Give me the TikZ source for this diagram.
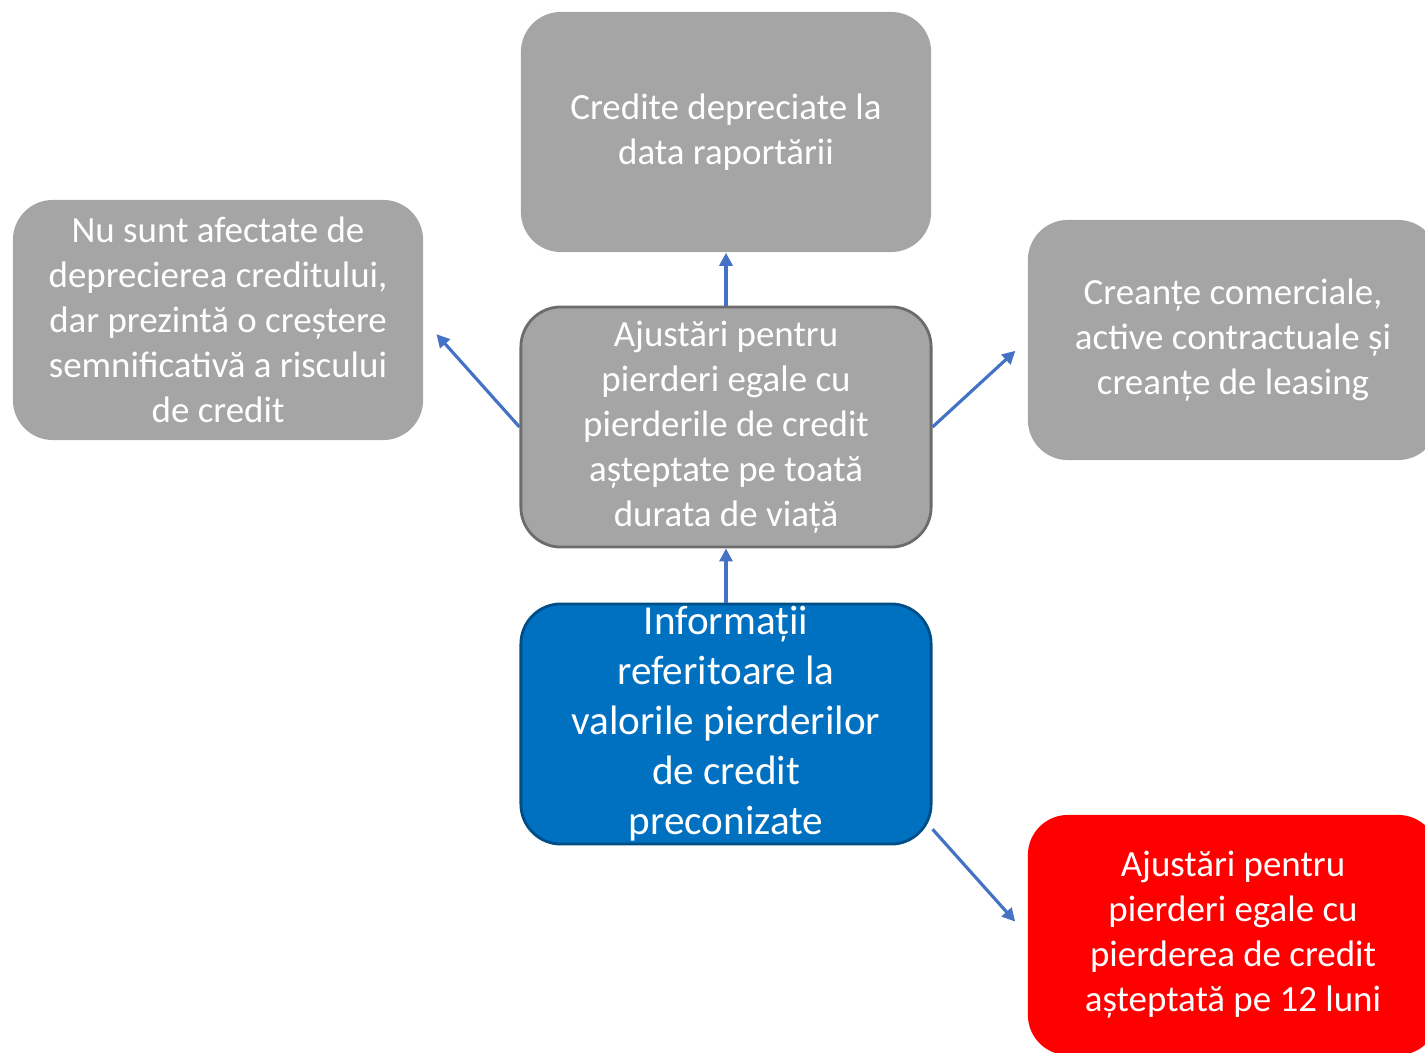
\documentclass[tikz,border=0pt]{standalone}
\usepackage{fontspec}
\setmainfont{Carlito}
\usetikzlibrary{arrows.meta}
\definecolor{boxgray}{HTML}{A5A5A5}
\definecolor{boxblue}{HTML}{0070C0}
\definecolor{boxred}{HTML}{FF0000}
\definecolor{linkblue}{HTML}{4472C4}
\begin{document}
\begin{tikzpicture}[x=0.01cm, y=-0.01cm,
  box/.style={rounded corners=0.4cm, minimum width=4.1cm, minimum height=2.4cm, inner sep=0pt,
    align=center, text=white, font=\fontsize{10.5}{12.8}\selectfont},
  link/.style={-{Triangle[length=0.13cm,width=0.13cm]}, line width=0.9pt, linkblue}]
\useasboundingbox (0,0) rectangle (1425,1052);
\node[box,fill=boxgray] (dep) at (726,132) {Credite depreciate la\\data raportării};
\node[box,fill=boxgray] (risc) at (218,320) {Nu sunt afectate de\\deprecierea creditului,\\dar prezintă o creștere\\semnificativă a riscului\\de credit};
\node[box,fill=boxgray,draw=gray!85!black,line width=0.8pt] (viata) at (726,427) {Ajustări pentru\\pierderi egale cu\\pierderile de credit\\așteptate pe toată\\durata de viață};
\node[box,fill=boxgray] (creante) at (1233,340) {Creanțe comerciale,\\active contractuale și\\creanțe de leasing};
\node[box,fill=boxblue,draw=boxblue!70!black,line width=0.8pt,font=\fontsize{11.7}{14.2}\selectfont] (info) at (726,724) {Informații\\referitoare la\\valorile pierderilor\\de credit\\preconizate};
\node[box,fill=boxred] (luni) at (1233,935) {Ajustări pentru\\pierderi egale cu\\pierderea de credit\\așteptată pe 12 luni};
\draw[link] (viata.north) -- (dep.south);
\draw[link] (info.north) -- (viata.south);
\draw[link,shorten >=0.19cm] (viata.west) -- (risc.east);
\draw[link,shorten >=0.16cm] (viata.east) -- (creante.west);
\draw[link,shorten >=0.18cm] (info.-27) -- (luni.west);
\end{tikzpicture}
\end{document}
